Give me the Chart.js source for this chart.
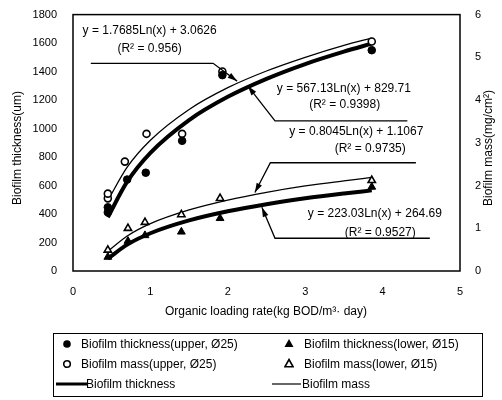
<!DOCTYPE html>
<html>
<head>
<meta charset="utf-8">
<script src="https://cdn.jsdelivr.net/npm/chart.js@4.4.1/dist/chart.umd.min.js"></script>
<style>
  html, body { margin: 0; padding: 0; background: #fff; }
  #wrap { position: relative; width: 502px; height: 400px; }
  #legend { position: absolute; left: 53px; top: 333px; width: 428px; height: 62px; border: 1px solid #000;
            font: 12px "Liberation Sans", Arial, sans-serif; color: #000; }
  .it { position: absolute; white-space: nowrap; line-height: 14px; }
  .mk { position: absolute; }
</style>
</head>
<body>
<div id="wrap">
  <canvas id="myChart" width="502" height="400"></canvas>
  <div id="legend">
    <svg class="mk" style="left:8px;top:5px" width="10" height="10"><circle cx="5" cy="5" r="3.8" fill="#000"/></svg>
    <span class="it" style="left:27px;top:3px">Biofilm thickness(upper, Ø25)</span>
    <svg class="mk" style="left:230px;top:4px" width="10" height="10"><path d="M5 1 L9.5 9 L0.5 9 Z" fill="#000"/></svg>
    <span class="it" style="left:250px;top:3px">Biofilm thickness(lower, Ø15)</span>

    <svg class="mk" style="left:8px;top:25px" width="10" height="10"><circle cx="5" cy="5" r="3.3" fill="#fff" stroke="#000" stroke-width="1.6"/></svg>
    <span class="it" style="left:27px;top:23px">Biofilm mass(upper, Ø25)</span>
    <svg class="mk" style="left:230px;top:24px" width="10" height="10"><path d="M5 1.5 L9 8.7 L1 8.7 Z" fill="#fff" stroke="#000" stroke-width="1.6"/></svg>
    <span class="it" style="left:250px;top:23px">Biofilm mass(lower, Ø15)</span>

    <svg class="mk" style="left:2px;top:48px" width="31" height="4"><line x1="0" y1="2" x2="31" y2="2" stroke="#000" stroke-width="3"/></svg>
    <span class="it" style="left:32px;top:43px">Biofilm thickness</span>
    <svg class="mk" style="left:218px;top:48px" width="29" height="4"><line x1="0" y1="2" x2="29" y2="2" stroke="#000" stroke-width="1.2"/></svg>
    <span class="it" style="left:248px;top:43px">Biofilm mass</span>
  </div>
</div>
<script>
// measured points (x = organic loading rate)
var thickUpperX = [0.45, 0.45, 0.70, 0.94, 1.41, 1.93, 3.86];
var thickUpperY = [412, 447, 642, 690, 914, 1375, 1550];
var massUpperX = [0.45, 0.45, 0.67, 0.95, 1.41, 1.93, 3.86];
var massUpperY = [1.70, 1.81, 2.56, 3.21, 3.21, 4.67, 5.37];
var thickLowerX = [0.45, 0.71, 0.93, 1.40, 1.90, 3.86];
var thickLowerY = [98, 210, 250, 275, 370, 590];
var massLowerX = [0.45, 0.71, 0.93, 1.40, 1.90, 3.86];
var massLowerY = [0.49, 1.00, 1.14, 1.32, 1.70, 2.12];

// trend curves
var curveX = [0.45, 0.7, 1, 1.5, 2, 2.5, 3, 3.5, 3.86];
var thickUpperFit = [377, 627, 830, 1060, 1223, 1349, 1453, 1540, 1596];
var massUpperFit = [1.65, 2.43, 3.06, 3.78, 4.29, 4.68, 5.00, 5.28, 5.45];
var thickLowerFit = [87, 185, 265, 355, 419, 469, 510, 544, 566];
var massLowerFit = [0.46, 0.82, 1.11, 1.43, 1.66, 1.84, 1.99, 2.11, 2.19];

var xTicks = [0, 1, 2, 3, 4, 5];

function pts(xs, ys) {
    return xs.map(function (x, i) { return { x: x, y: ys[i] }; });
}

// equation labels: text positions and leader path in data units (left axis)
var eqNotes = [
    { text: ["y = 1.7685Ln(x) + 3.0626", "(R² = 0.956)"], at: [[0.99, 1688], [0.99, 1563]],
      path: [[0.23, 1458], [1.81, 1458], [2.12, 1333]] },
    { text: ["y = 567.13Ln(x) + 829.71", "(R² = 0.9398)"], at: [[3.50, 1277], [3.51, 1165]],
      path: [[4.32, 1054], [2.61, 1054], [2.26, 1298]] },
    { text: ["y = 0.8045Ln(x) + 1.1067", "(R² = 0.9735)"], at: [[3.66, 977], [3.84, 858]],
      path: [[4.43, 760], [2.55, 760], [2.35, 551]] },
    { text: ["y = 223.03Ln(x) + 264.69", "(R² = 0.9527)"], at: [[3.90, 405], [3.97, 272]],
      path: [[4.61, 230], [2.61, 230], [2.44, 447]] }
];

var FONT = '"Liberation Sans", Arial, sans-serif';

var extras = {
    id: "extras",
    afterDraw: function (chart) {
        var ctx = chart.ctx, xs = chart.scales.x, ys = chart.scales.y, a = chart.chartArea;
        ctx.save();
        ctx.strokeStyle = "#000";
        ctx.fillStyle = "#000";
        ctx.lineWidth = 1.5;
        ctx.strokeRect(a.left, a.top, a.right - a.left, a.bottom - a.top);

        ctx.font = "12px " + FONT;
        ctx.textAlign = "center";
        ctx.textBaseline = "middle";
        eqNotes.forEach(function (n) {
            n.text.forEach(function (t, i) {
                ctx.fillText(t, xs.getPixelForValue(n.at[i][0]), ys.getPixelForValue(n.at[i][1]));
            });
            var p = n.path.map(function (q) { return [xs.getPixelForValue(q[0]), ys.getPixelForValue(q[1])]; });
            ctx.lineWidth = 1.3;
            ctx.beginPath();
            ctx.moveTo(p[0][0], p[0][1]);
            for (var i = 1; i < p.length; i++) ctx.lineTo(p[i][0], p[i][1]);
            ctx.stroke();
            var b = p[p.length - 2], e = p[p.length - 1];
            var ang = Math.atan2(e[1] - b[1], e[0] - b[0]);
            ctx.beginPath();
            ctx.moveTo(e[0], e[1]);
            ctx.lineTo(e[0] - 10 * Math.cos(ang - 0.3), e[1] - 10 * Math.sin(ang - 0.3));
            ctx.lineTo(e[0] - 10 * Math.cos(ang + 0.3), e[1] - 10 * Math.sin(ang + 0.3));
            ctx.closePath();
            ctx.fill();
        });

        // axis titles
        ctx.font = "12px " + FONT;
        ctx.fillText("Organic loading rate(kg BOD/m³· day)", 266, 312);
        ctx.save();
        ctx.translate(18, 148);
        ctx.rotate(-Math.PI / 2);
        ctx.fillText("Biofilm thickness(um)", 0, 0);
        ctx.restore();
        ctx.save();
        ctx.translate(489, 148);
        ctx.rotate(-Math.PI / 2);
        ctx.fillText("Biofilm mass(mg/cm²)", 0, 0);
        ctx.restore();
        ctx.restore();
    }
};

function plain(v) { return String(v); }

var ctx = document.getElementById("myChart").getContext("2d");
var chart = new Chart(ctx, {
    type: "scatter",
    data: {
        datasets: [
            { label: "Biofilm thickness(upper, Ø25)", data: pts(thickUpperX, thickUpperY), yAxisID: "y",
              pointStyle: "circle", pointRadius: 3.8, backgroundColor: "#000", borderColor: "#000", borderWidth: 1 },
            { label: "Biofilm mass(upper, Ø25)", data: pts(massUpperX, massUpperY), yAxisID: "y2",
              pointStyle: "circle", pointRadius: 3.5, backgroundColor: "#fff", borderColor: "#000", borderWidth: 1.6 },
            { label: "Biofilm thickness(lower, Ø15)", data: pts(thickLowerX, thickLowerY), yAxisID: "y",
              pointStyle: "triangle", pointRadius: 4.5, backgroundColor: "#000", borderColor: "#000", borderWidth: 1 },
            { label: "Biofilm mass(lower, Ø15)", data: pts(massLowerX, massLowerY), yAxisID: "y2",
              pointStyle: "triangle", pointRadius: 4.2, backgroundColor: "#fff", borderColor: "#000", borderWidth: 1.6 },
            { type: "line", label: "Biofilm thickness", data: pts(curveX, thickUpperFit), yAxisID: "y",
              borderColor: "#000", borderWidth: 4, pointRadius: 0, cubicInterpolationMode: "monotone", order: 5 },
            { type: "line", label: "Biofilm thickness lower", data: pts(curveX, thickLowerFit), yAxisID: "y",
              borderColor: "#000", borderWidth: 4, pointRadius: 0, cubicInterpolationMode: "monotone", order: 5 },
            { type: "line", label: "Biofilm mass", data: pts(curveX, massUpperFit), yAxisID: "y2",
              borderColor: "#000", borderWidth: 1.3, pointRadius: 0, cubicInterpolationMode: "monotone", order: 5 },
            { type: "line", label: "Biofilm mass lower", data: pts(curveX, massLowerFit), yAxisID: "y2",
              borderColor: "#000", borderWidth: 1.3, pointRadius: 0, cubicInterpolationMode: "monotone", order: 5 }
        ]
    },
    options: {
        responsive: false,
        animation: false,
        devicePixelRatio: 1,
        layout: { padding: { top: 13, bottom: 99, left: 0, right: 0 } },
        plugins: { legend: { display: false }, tooltip: { enabled: false } },
        scales: {
            x: {
                type: "linear", min: 0, max: 5,
                afterBuildTicks: function (s) { s.ticks = xTicks.map(function (v) { return { value: v }; }); },
                afterFit: function (s) { s.height = 30; },
                grid: { display: false },
                border: { display: false },
                ticks: { color: "#000", font: { family: FONT, size: 11 }, padding: 6, callback: plain }
            },
            y: {
                position: "left", min: 0, max: 1800,
                ticks: { stepSize: 200, color: "#000", font: { family: FONT, size: 11 }, padding: 8, callback: plain },
                afterFit: function (s) { s.width = 73; },
                grid: { display: false },
                border: { display: false }
            },
            y2: {
                position: "right", min: 0, max: 6,
                ticks: { stepSize: 1, color: "#000", font: { family: FONT, size: 11 }, padding: 7, callback: plain },
                afterFit: function (s) { s.width = 42; },
                grid: { display: false },
                border: { display: false }
            }
        }
    },
    plugins: [extras]
});
</script>
</body>
</html>
